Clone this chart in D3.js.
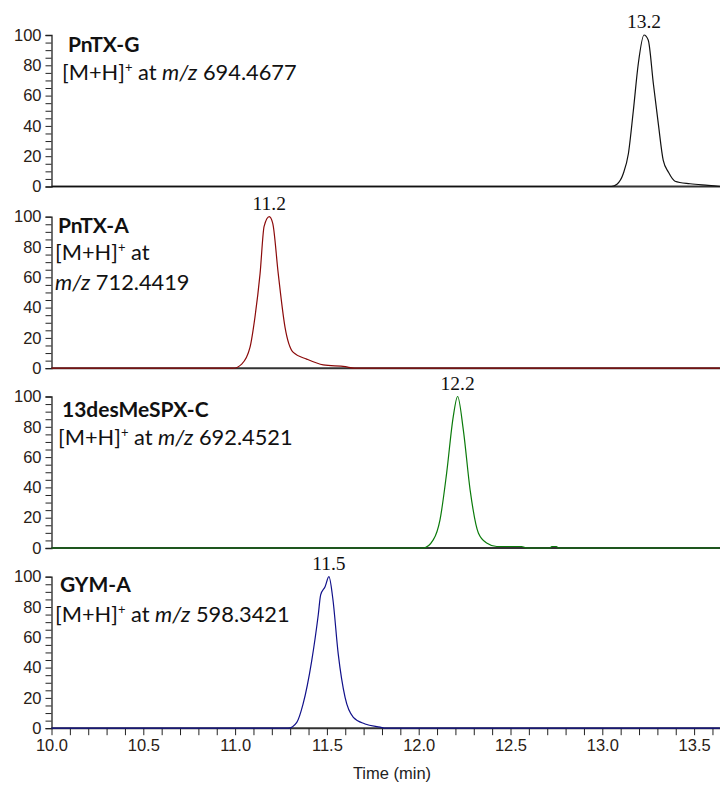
<!DOCTYPE html>
<html><head><meta charset="utf-8">
<script src="https://cdn.jsdelivr.net/npm/d3@7"></script>
<style>body{margin:0;background:#fff}svg{display:block}</style>
</head><body>
<svg id="c" width="720" height="785"></svg>
<script>
// ---- data ----
const xTicks = [10.0, 10.5, 11.0, 11.5, 12.0, 12.5, 13.0, 13.5];
const yTicks = [0, 20, 40, 60, 80, 100];
const names = ["PnTX-G", "PnTX-A", "13desMeSPX-C", "GYM-A"];
const mzValues = ["694.4677", "712.4419", "692.4521", "598.3421"];
const peakLabels = ["13.2", "11.2", "12.2", "11.5"];
const colors = ["#111111", "#8b0a0a", "#0a7a0a", "#10108a"];

const tPnTXG = [10.0, 13.05, 13.08, 13.114, 13.142, 13.169, 13.196, 13.227, 13.25, 13.278, 13.305, 13.332, 13.36, 13.396, 13.478, 13.577, 13.64];
const vPnTXG = [0, 0, 1.5, 8.4, 21.6, 50, 81, 100, 96.7, 68, 41.5, 17.2, 9.5, 3.5, 1.8, 0.7, 0];

const tPnTXA = [10.0, 10.99, 11.036, 11.081, 11.108, 11.136, 11.158, 11.186, 11.205, 11.235, 11.272, 11.317, 11.39, 11.48, 11.6, 11.65, 13.64];
const vPnTXA = [0, 0, 2.7, 13.7, 33.6, 62.4, 93.6, 100, 95.6, 62.4, 27, 10.4, 6, 2.2, 1, 0, 0];

const tSPX = [10.0, 12.025, 12.08, 12.116, 12.152, 12.188, 12.212, 12.243, 12.28, 12.325, 12.37, 12.425, 12.56, 12.59, 12.715, 12.725, 12.75, 12.76, 13.64];
const vSPX = [0, 0, 5.5, 18.6, 49.3, 86.6, 100, 78, 38.4, 9.9, 3.3, 1, 1, 0, 0, 1, 1, 0, 0];

const tGYM = [10.0, 11.29, 11.336, 11.37, 11.417, 11.453, 11.466, 11.49, 11.511, 11.532, 11.562, 11.599, 11.644, 11.708, 11.79, 11.82, 13.64];
const vGYM = [0, 0, 3.9, 15.9, 44.3, 74.9, 88, 93.4, 100, 85.8, 48.7, 20.3, 7.2, 2.8, 0.7, 0, 0];

const traces = [[tPnTXG, vPnTXG], [tPnTXA, vPnTXA], [tSPX, vSPX], [tGYM, vGYM]];

// ---- layout ----
const svg = d3.select("#c");
const left = 51.5, right = 720;
const x = d3.scaleLinear().domain([10, 10 + (right - left) / 183.6]).range([left, right]);
const panelTops = [35, 216.7, 396.5, 576.7];
const panelH = 151.5;
const textPos = [
  {tx: 68, ty: 51.5, lines: [{x: 62, y: 80, type: "full"}]},
  {tx: 58, ty: 233, lines: [{x: 55, y: 260, type: "head"}, {x: 55, y: 290, type: "tail"}]},
  {tx: 62, ty: 417, lines: [{x: 58, y: 445, type: "full"}]},
  {tx: 60, ty: 592, lines: [{x: 55, y: 621.5, type: "full"}]}
];

traces.forEach((tr, i) => {
  const top = panelTops[i];
  const y = d3.scaleLinear().domain([0, 100]).range([top + panelH, top]);
  const g = svg.append("g");

  // y axis
  const ya = g.append("g").attr("transform", `translate(${left},0)`)
    .call(d3.axisLeft(y).tickValues(d3.range(0, 101, 5)).tickSize(6)
      .tickFormat(d => yTicks.includes(d) ? d : ""));
  ya.select(".domain").attr("stroke", "#222").attr("stroke-width", 1.3);
  ya.selectAll(".tick line").attr("stroke", "#222").attr("stroke-width", 1);
  ya.selectAll(".tick text").attr("font-family", "Liberation Sans, Arial, sans-serif")
    .attr("font-size", 16.5).attr("fill", "#2a2015").attr("x", -10);

  // baseline
  g.append("line").attr("x1", left).attr("x2", right)
    .attr("y1", y(0)).attr("y2", y(0)).attr("stroke", "#333").attr("stroke-width", 2);

  // x axis on bottom panel
  if (i === 3) {
    const xa = g.append("g").attr("transform", `translate(0,${y(0)})`)
      .call(d3.axisBottom(x).tickValues(d3.range(100, 137, 1).map(v => v / 10)).tickSize(7)
        .tickFormat(d => xTicks.some(t => Math.abs(t - d) < 1e-6) ? d.toFixed(1) : ""));
    xa.select(".domain").remove();
    xa.selectAll(".tick line").attr("stroke", "#222");
    xa.selectAll(".tick text").attr("font-family", "Liberation Sans, Arial, sans-serif")
      .attr("font-size", 16.5).attr("fill", "#2a2015").attr("dy", "0.85em").attr("y", 9);
  }

  // trace
  const pts = tr[0].map((t, k) => [t, tr[1][k]]);
  g.append("path").datum(pts)
    .attr("d", d3.line().curve(d3.curveMonotoneX).x(d => x(d[0])).y(d => y(d[1])))
    .attr("fill", "none").attr("stroke", colors[i]).attr("stroke-width", 1.2);

  // peak label
  const pk = pts.reduce((a, b) => b[1] > a[1] ? b : a);
  g.append("text").attr("x", x(pk[0])).attr("y", y(100) - 7)
    .attr("text-anchor", "middle").attr("font-family", "Liberation Serif, Times New Roman, serif")
    .attr("font-size", 19.5).attr("fill", "#111").text(peakLabels[i]);

  // names
  const tp = textPos[i];
  g.append("text").attr("x", tp.tx).attr("y", tp.ty)
    .attr("font-family", "Lato, Carlito, sans-serif").attr("font-weight", "bold")
    .attr("font-size", 21).attr("fill", "#111").text(names[i]);
  tp.lines.forEach(l => {
    const t = g.append("text").attr("x", l.x).attr("y", l.y)
      .attr("font-family", "Lato, Carlito, sans-serif").attr("font-size", 21.8).attr("fill", "#111");
    if (l.type === "full" || l.type === "head") {
      t.append("tspan").text("[M+H]");
      t.append("tspan").attr("font-size", 13).attr("dy", -8).text("+");
      t.append("tspan").attr("dy", 8).text(" at");
    }
    if (l.type === "full") t.append("tspan").text(" ");
    if (l.type === "full" || l.type === "tail") {
      t.append("tspan").attr("font-style", "italic").text("m/z");
      t.append("tspan").text(" " + mzValues[i]);
    }
  });
});

svg.append("text").attr("x", 392).attr("y", 779).attr("text-anchor", "middle")
  .attr("font-family", "Liberation Sans, Arial, sans-serif").attr("font-size", 16.5)
  .attr("fill", "#222").text("Time (min)");
</script>
</body></html>
